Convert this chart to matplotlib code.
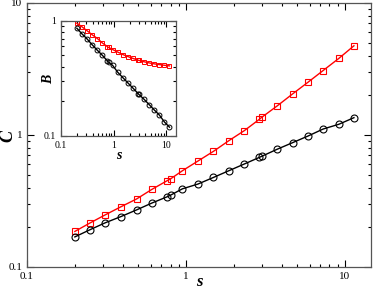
import numpy as np
import matplotlib
matplotlib.use("Agg")
import matplotlib.pyplot as plt

plt.rcParams['font.family'] = ['Liberation Serif', 'DejaVu Serif']
plt.rcParams['mathtext.fontset'] = 'stix'

# datos
s = [0.2, 0.25, 0.31, 0.39, 0.49, 0.61, 0.76, 0.8, 0.95, 1.19, 1.49,
     1.86, 2.33, 2.9, 3.0, 3.75, 4.69, 5.86, 7.3, 9.15, 11.4]

C_red = [0.186, 0.216, 0.248, 0.286, 0.328, 0.387, 0.450, 0.465, 0.536, 0.635, 0.752,
         0.905, 1.079, 1.316, 1.362, 1.661, 2.048, 2.51, 3.08, 3.80, 4.74]
C_black = [0.169, 0.192, 0.216, 0.241, 0.271, 0.305, 0.340, 0.350, 0.391, 0.425, 0.477,
           0.536, 0.603, 0.677, 0.690, 0.780, 0.875, 0.982, 1.11, 1.205, 1.353]

B_red = [0.95, 0.885, 0.82, 0.755, 0.70, 0.64, 0.595, 0.585, 0.562, 0.534, 0.508,
         0.488, 0.47, 0.454, 0.452, 0.44, 0.43, 0.422, 0.416, 0.41, 0.405]
B_black = [0.86, 0.768, 0.697, 0.618, 0.553, 0.50, 0.447, 0.436, 0.41, 0.357, 0.32,
           0.288, 0.259, 0.233, 0.229, 0.208, 0.187, 0.168, 0.152, 0.132, 0.119]

fig = plt.figure(figsize=(3.74, 2.91), dpi=100)

def estilo(ax, fs):
    ax.set_xscale('log')
    ax.set_yscale('log')
    ax.tick_params(which='both', direction='in', top=True, right=True,
                   labelsize=fs, width=0.8)
    ax.tick_params(which='major', length=5)
    ax.tick_params(which='minor', length=2.5)
    ax.xaxis.set_major_formatter(matplotlib.ticker.FuncFormatter(lambda v, p: '%g' % v))
    ax.yaxis.set_major_formatter(matplotlib.ticker.FuncFormatter(lambda v, p: '%g' % v))
    ax.xaxis.set_minor_formatter(matplotlib.ticker.NullFormatter())
    ax.yaxis.set_minor_formatter(matplotlib.ticker.NullFormatter())
    for sp in ax.spines.values():
        sp.set_linewidth(0.9)
        sp.set_color('#555555')

# grafico principal
ax = fig.add_axes([0.0722, 0.0825, 0.9198, 0.9072])
ax.plot(s, C_red, '-s', color='red', lw=1, ms=5, mfc='none', mew=0.8)
ax.plot(s, C_black, '-o', color='black', lw=1, ms=5, mfc='none', mew=0.8)
ax.set_xlim(0.1, 14.6)
ax.set_ylim(0.1, 10)
estilo(ax, 8)
ax.set_xlabel('s', fontsize=12, fontweight='bold', style='italic')
ax.set_ylabel('C', fontsize=13, fontweight='bold', style='italic')
ax.xaxis.set_label_coords(0.5, -0.025)
ax.yaxis.set_label_coords(-0.03, 0.496)

# recuadro
ax2 = fig.add_axes([0.163, 0.533, 0.307, 0.396])
ax2.plot(s, B_red, '-s', color='red', lw=1, ms=3.5, mfc='none', mew=0.7)
ax2.plot(s, B_black, '-o', color='black', lw=1, ms=3.5, mfc='none', mew=0.7)
ax2.set_xlim(0.1, 15)
ax2.set_ylim(0.1, 1)
estilo(ax2, 7)
ax2.tick_params(which='major', length=4)
ax2.tick_params(which='minor', length=2)
ax2.set_xlabel('s', fontsize=10, fontweight='bold', style='italic')
ax2.set_ylabel('B', fontsize=10, fontweight='bold', style='italic')
ax2.xaxis.set_label_coords(0.5, -0.11)
ax2.yaxis.set_label_coords(-0.05, 0.49)

fig.savefig('out.png', dpi=100)
